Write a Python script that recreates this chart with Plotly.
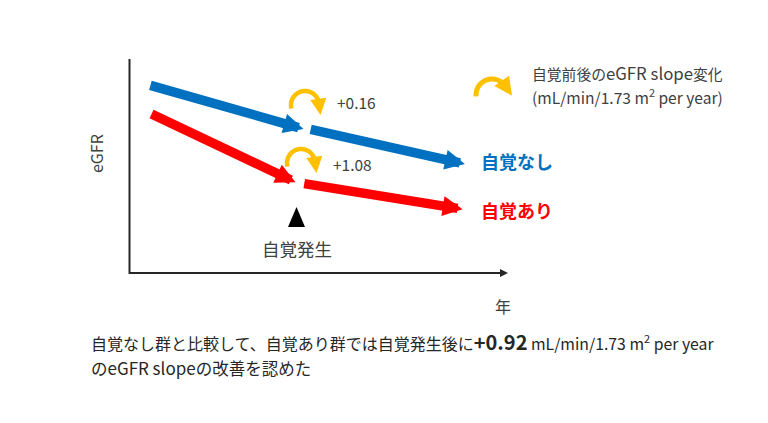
import numpy as np
import plotly.graph_objects as go

W, H = 768, 423

# ---- data (schematic eGFR trajectories, arbitrary units) ----
blue_before_x = [0.50, 4.59]
blue_before_y = [8.79, 6.73]
blue_after_x = [4.74, 8.86]
blue_after_y = [6.73, 5.09]
red_before_x = [0.53, 4.38]
red_before_y = [7.46, 4.24]
red_after_x = [4.57, 8.80]
red_after_y = [4.19, 2.98]
group_labels = ["自覚なし", "自覚あり"]
slope_changes = ["+0.16", "+1.08"]
diff_value = "+0.92"

BLUE = "#0070C0"
RED = "#FF0000"
YEL = "#FFC000"
GRAY = "#404040"
DARK = "#262626"
FONT = "Noto Sans CJK JP, Noto Sans, sans-serif"


def px(x):
    return x / W


def py(y):
    return 1 - y / H


fig = go.Figure()
fig.add_trace(go.Scatter(x=[0, 10], y=[0, 10], mode="markers",
                         marker=dict(opacity=0), hoverinfo="skip", showlegend=False))

annotations = []
shapes = []

# data arrows
for xs, ys, col in [(blue_before_x, blue_before_y, BLUE), (blue_after_x, blue_after_y, BLUE),
                    (red_before_x, red_before_y, RED), (red_after_x, red_after_y, RED)]:
    annotations.append(dict(x=xs[1], y=ys[1], ax=xs[0], ay=ys[0], xref="x", yref="y",
                            axref="x", ayref="y", text="", showarrow=True,
                            arrowhead=2, arrowsize=0.42, arrowwidth=9.5, arrowcolor=col,
                            standoff=0, startstandoff=0))

# axes (schematic)
shapes.append(dict(type="line", xref="paper", yref="paper", x0=px(129.5), x1=px(129.5),
                   y0=py(59), y1=py(274), line=dict(color=DARK, width=2)))
annotations.append(dict(x=px(508), y=py(273), ax=128.5 - 508, ay=0, xref="paper", yref="paper",
                        text="", showarrow=True,
                        arrowhead=2, arrowsize=0.8, arrowwidth=2, arrowcolor=DARK,
                        standoff=0, startstandoff=0))


# curved yellow arrows
def curved_arrow(cx, cy, r, a0, a1, head_len, width, hsize):
    th = np.radians(np.linspace(a0, a1, 40))
    xs = cx + r * np.cos(th)
    ys = cy - r * np.sin(th)
    path = "M " + " L ".join(f"{px(x):.5f},{py(y):.5f}" for x, y in zip(xs, ys))
    shapes.append(dict(type="path", xref="paper", yref="paper", path=path,
                       line=dict(color=YEL, width=width), layer="above"))
    t = np.radians(a1)
    dx, dy = np.sin(t), np.cos(t)  # screen direction (clockwise travel)
    ex, ey = xs[-1], ys[-1]
    tx, ty = ex + head_len * dx, ey + head_len * dy
    annotations.append(dict(x=px(tx), y=py(ty), ax=ex - tx, ay=ey - ty, xref="paper", yref="paper",
                            text="", showarrow=True, arrowhead=2, arrowsize=hsize,
                            arrowwidth=width, arrowcolor=YEL, standoff=0))


curved_arrow(305, 105, 14, 195, 8, 12, 4.5, 0.72)
curved_arrow(301, 163, 14, 195, 8, 12, 4.5, 0.72)
curved_arrow(492, 95, 16, 185, 35, 12, 5, 0.72)


def text(x, y, s, size=14, color=GRAY, anchor="left", bold=False, angle=0):
    if bold:
        s = f"<b>{s}</b>"
    annotations.append(dict(x=px(x), y=py(y), xref="paper", yref="paper", text=s,
                            showarrow=False, xanchor=anchor, yanchor="middle",
                            textangle=angle, borderpad=0,
                            font=dict(family=FONT, size=size, color=color)))


def latin(s, size):
    return f"<span style='font-size:{size}px'>{s}</span>"


text(96, 154, "eGFR", size=16, anchor="center", angle=-90)
text(503, 306, "年", size=16, anchor="center")
text(336, 102, slope_changes[0], size=15.5)
text(332, 164, slope_changes[1], size=15.5)
text(296.5, 249, "自覚発生", size=17.5, anchor="center")
text(480, 161, group_labels[0], size=18, color=BLUE, bold=True)
text(480, 210, group_labels[1], size=18, color=RED, bold=True)
text(531, 73, "自覚前後の" + latin("eGFR slope", 16.8) + "変化", size=14.8)
text(531, 96, "(mL/min/1.73 m<sup>2</sup> per year)", size=15.6)

# onset marker
shapes.append(dict(type="path", xref="paper", yref="paper",
                   path=f"M {px(288):.5f},{py(227):.5f} L {px(305):.5f},{py(227):.5f} L {px(296.5):.5f},{py(207):.5f} Z",
                   fillcolor="black", line=dict(width=0)))

line1 = ("自覚なし群と比較して、自覚あり群では自覚発生後に"
         f"<b><span style='font-size:20px'>{diff_value}</span></b>"
         + latin(" mL/min/1.73 m<sup>2</sup> per year", 15.8))
text(90, 341, line1, size=16, color=DARK)
line2 = "の" + latin("eGFR slope", 17) + "の改善を認めた"
text(90, 367, line2, size=16.5, color=DARK)

fig.update_layout(
    width=W, height=H, autosize=False,
    margin=dict(l=0, r=0, t=0, b=0),
    paper_bgcolor="white", plot_bgcolor="rgba(0,0,0,0)",
    xaxis=dict(domain=[130 / W, 508 / W], range=[0, 10], visible=False, fixedrange=True),
    yaxis=dict(domain=[1 - 273 / H, 1 - 59 / H], range=[0, 10], visible=False, fixedrange=True),
    annotations=annotations, shapes=shapes, showlegend=False,
)

fig.write_html("out.html", config={"displayModeBar": False},
               post_script="document.body.style.margin='0px';")
